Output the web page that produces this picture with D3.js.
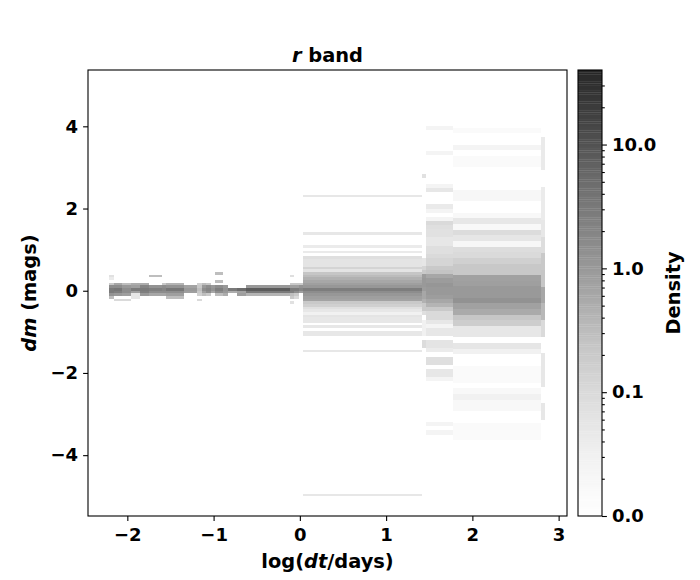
<!DOCTYPE html>
<html><head><meta charset="utf-8">
<script src="https://cdn.jsdelivr.net/npm/d3@7"></script>
<style>
body{margin:0;background:#fff}
text{font-family:"DejaVu Sans",sans-serif;font-weight:bold;fill:#000}
</style>
</head><body>
<svg id="chart" width="700" height="580"></svg>
<script>
// ---------------- data ----------------
const xTicks = [-2, -1, 0, 1, 2, 3];
const yTicks = [-4, -2, 0, 2, 4];
const cbTicks = [0.01, 0.1, 1, 10];
const cbTickLabels = ["0.0", "0.1", "1.0", "10.0"];
const cbMinorTicks = [0.02,0.03,0.04,0.05,0.06,0.07,0.08,0.09,0.2,0.3,0.4,0.5,0.6,0.7,0.8,0.9,2,3,4,5,6,7,8,9,20,30];
const densityMin = 0.01, densityMax = 40;

// log(dt/days) bin edges of each column
const columnLeft  = [-2.216,-2.158,-2.065,-1.961,-1.856,-1.752,-1.601,-1.555,-1.346,-1.195,-1.137,-1.090,-1.032,-0.986,-0.893,-0.835,-0.731,-0.626,-0.116,-0.070,-0.012, 0.035, 1.415, 1.462, 1.775, 2.796];
const columnRight = [-2.158,-2.065,-1.961,-1.856,-1.752,-1.601,-1.555,-1.346,-1.195,-1.137,-1.090,-1.032,-0.986,-0.893,-0.835,-0.731,-0.626,-0.116,-0.070,-0.012, 0.035, 1.415, 1.462, 1.775, 2.796, 2.842];
// dm bin height of each column (mags)
const columnBinHeight = [0.065,0.065,0.065,0.065,0.065,0.065,0.065,0.065,0.065,0.065,0.065,0.065,0.065,0.065,0.065,0.065,0.065,0.065,0.065,0.065,0.065, 0.065, 0.1, 0.1, 0.138, 0.405];

// lower dm edge of every non-empty cell, per column
const cellDm = [
  [0.325,0.26,0.13,0.065,0,-0.065,-0.13,-0.195],
  [0.13,0.065,0,-0.065,-0.13,-0.26],
  [0.13,0.065,0,-0.065,-0.13,-0.26],
  [0.13,0.065,0,-0.065,-0.13,-0.195],
  [0.13,0.065,0,-0.065,-0.13],
  [0.325,0.065,0,-0.065,-0.13],
  [0.13,0.065,0,-0.065,-0.13],
  [0.13,0.065,0,-0.065,-0.13,-0.195],
  [0.065,0,-0.065],
  [0.13,0.065,0,-0.065,-0.13,-0.26],
  [0.13,0.065,0,-0.065,-0.13],
  [0.13,0.065,0,-0.065,-0.13],
  [0.065,0,-0.065],
  [0.39,0.195,0.065,0,-0.065,-0.13],
  [0.065,0,-0.065,-0.13],
  [0,-0.065],
  [0,-0.065,-0.13],
  [0.065,0,-0.065,-0.13],
  [0.325,0.13,0.065,0,-0.065,-0.13,-0.195,-0.325],
  [0.13,0.065,0,-0.065,-0.13,-0.195],
  [0.13,0.065,0,-0.065],
  // main column 0.035 - 1.415
  [2.275,1.365,1.04,0.91,0.78,0.715,0.65,0.585,0.52,0.455,0.39,0.325,0.26,0.195,0.13,0.065,0,-0.065,-0.13,-0.195,-0.26,-0.325,-0.39,-0.455,-0.52,-0.585,-0.65,-0.715,-0.78,-0.91,-1.04,-1.105,-1.495,-5.005],
  // thin column 1.415 - 1.462
  [2.75,0.7,0.6,0.5,0.4,0.3,0.2,0.1,0.0,-0.1,-0.2,-0.3,-0.4,-0.5,-0.6,-0.8,-0.9,-1.0,-1.1,-1.3,-1.4],
  // column 1.462 - 1.775
  [3.9,3.3,2.5,2.4,2.0,1.9,1.7,1.6,1.5,1.4,1.3,1.2,1.1,1.0,0.9,0.8,0.7,0.6,0.5,0.4,0.3,0.2,0.1,0.0,-0.1,-0.2,-0.3,-0.4,-0.5,-0.6,-0.7,-0.8,-0.9,-1.0,-1.1,-1.3,-1.4,-1.5,-1.7,-1.8,-2.0,-2.1,-2.2,-3.3,-3.5],
  // column 1.775 - 2.796
  [-3.62,-3.482,-3.344,-2.93,-2.792,-2.654,-2.516,-2.24,-2.102,-1.964,-1.55,-1.412,-1.136,-0.998,-0.86,-0.722,-0.584,-0.446,-0.308,-0.17,-0.032,0.106,0.244,0.382,0.52,0.658,0.796,0.934,1.072,1.21,1.348,1.486,1.624,1.762,2.176,2.314,3.004,3.142,3.418,3.832],
  // column 2.796 - 2.842
  [-3.14,-2.33,-1.925,-1.115,-0.71,-0.305,0.10,0.505,0.91,1.315,1.72,2.125,2.935,3.34]
];
// density of every cell, same order
const cellDensity = [
  [0.07,0.04,0.2,1.5,3,3,1.2,0.3],
  [0.6,1.5,3.5,2.5,1.0,0.1],
  [0.3,1.0,1.5,1.5,0.8,0.1],
  [0.5,0.8,3,0.8,0.05,0.05],
  [0.5,2,3,2.5,1.0],
  [0.3,1.2,2.5,1.5,0.6],
  [0.2,1.5,2,1.5,0.6],
  [0.4,1.2,3.5,1.5,0.8,0.3],
  [0.7,1.0,0.8],
  [0.15,0.2,0.3,0.2,0.15,0.1],
  [0.3,1.0,1.5,0.8,0.3],
  [0.2,1.5,2,1.5,0.2],
  [1.0,1.2,0.6],
  [0.3,0.3,1.5,2.5,1.5,0.3],
  [1.0,1.2,1.0,0.5],
  [3,0.5],
  [5,0.7,0.8],
  [1.0,8,3,0.4],
  [0.08,0.2,0.8,3,2.5,0.3,0.2,0.07],
  [0.2,0.8,3,1.5,0.2,0.1],
  [0.2,1.2,2,0.8],
  [0.05,0.05,0.04,0.045,0.08,0.06,0.06,0.06,0.13,0.06,0.23,0.32,0.45,0.6,0.8,1.05,2.7,1.5,1.05,0.8,0.7,0.2,0.15,0.075,0.05,0.03,0.06,0.05,0.05,0.05,0.05,0.05,0.05,0.05],
  [0.07,0.055,0.055,0.12,0.2,0.9,1.0,1.0,0.9,0.6,0.6,0.45,0.2,0.2,0.08,0.03,0.03,0.03,0.03,0.09,0.09],
  [0.025,0.025,0.025,0.05,0.045,0.025,0.025,0.1,0.08,0.07,0.07,0.05,0.05,0.08,0.08,0.1,0.12,0.12,0.2,0.25,0.6,0.9,1.1,1.0,1.0,0.85,0.6,0.4,0.2,0.1,0.1,0.05,0.025,0.05,0.05,0.06,0.06,0.04,0.08,0.08,0.05,0.05,0.025,0.025,0.025],
  [0.015,0.015,0.015,0.017,0.017,0.03,0.017,0.015,0.015,0.015,0.03,0.055,0.05,0.05,0.17,0.23,0.55,0.75,1.25,1.0,1.0,0.8,0.75,0.22,0.22,0.15,0.1,0.085,0.02,0.055,0.09,0.017,0.05,0.017,0.02,0.02,0.015,0.015,0.025,0.015],
  [0.05,0.05,0.05,0.1,0.35,0.6,0.23,0.2,0.085,0.05,0.04,0.04,0.045,0.045]
];

// ---------------- drawing ----------------
const svg = d3.select("#chart");
const plot = {left: 88, right: 567, top: 70, bottom: 516};
const cbar = {left: 578, right: 602, top: 70, bottom: 516};
const alpha = 0.85;

const x = d3.scaleLinear().domain([-2.456, 3.097]).range([plot.left, plot.right]);
const y = d3.scaleLinear().domain([-5.48, 5.37]).range([plot.bottom, plot.top]);
const greys = d3.piecewise(d3.interpolateRgb, ["#ffffff","#f0f0f0","#d9d9d9","#bdbdbd","#969696","#737373","#525252","#252525","#000000"]);
const norm = d3.scaleLog().domain([densityMin, densityMax]).range([0, 1]).clamp(true);
const blend = c => d3.interpolateRgb("#ffffff", c)(alpha);
const color = d => blend(greys(norm(d)));

const cells = [];
cellDm.forEach((list, ci) => {
  list.forEach((dm, k) => {
    cells.push({x0: columnLeft[ci], x1: columnRight[ci], y0: dm, y1: dm + columnBinHeight[ci], d: cellDensity[ci][k]});
  });
});

const gCells = svg.append("g").attr("shape-rendering", "crispEdges");
gCells.selectAll("rect").data(cells).join("rect")
  .attr("x", c => x(c.x0))
  .attr("width", c => Math.max(0.5, x(c.x1) - x(c.x0)))
  .attr("y", c => y(c.y1))
  .attr("height", c => Math.max(0.5, y(c.y0) - y(c.y1)))
  .attr("fill", c => color(c.d));

// frame
svg.append("rect").attr("x", plot.left).attr("y", plot.top)
  .attr("width", plot.right - plot.left).attr("height", plot.bottom - plot.top)
  .attr("fill", "none").attr("stroke", "#000").attr("stroke-width", 1.1);

function styleAxis(g, fs) {
  g.select(".domain").remove();
  g.selectAll(".tick line").attr("stroke", "#000").attr("stroke-width", 1.1);
  g.selectAll(".tick text").attr("font-size", fs).attr("font-family", "DejaVu Sans").attr("font-weight", "bold").attr("fill", "#000");
}

const xAxis = svg.append("g").attr("transform", `translate(0,${plot.bottom})`)
  .call(d3.axisBottom(x).tickValues(xTicks).tickSize(4.9).tickPadding(7).tickFormat(d3.format("d")));
styleAxis(xAxis, 18);
xAxis.selectAll(".tick text").attr("dy", "0.71em");

const yAxis = svg.append("g").attr("transform", `translate(${plot.left},0)`)
  .call(d3.axisLeft(y).tickValues(yTicks).tickSize(4.9).tickPadding(5).tickFormat(d3.format("d")));
styleAxis(yAxis, 18);

// colorbar
const cb = d3.scaleLog().domain([densityMin, densityMax]).range([cbar.bottom, cbar.top]);
const nSteps = 200;
const steps = d3.range(nSteps);
const cbH = (cbar.bottom - cbar.top) / nSteps;
svg.append("g").selectAll("rect").data(steps).join("rect")
  .attr("x", cbar.left).attr("width", cbar.right - cbar.left)
  .attr("y", i => cbar.bottom - (i + 1) * cbH)
  .attr("height", cbH + 0.3)
  .attr("fill", i => blend(greys((i + 0.5) / nSteps)));
svg.append("rect").attr("x", cbar.left).attr("y", cbar.top)
  .attr("width", cbar.right - cbar.left).attr("height", cbar.bottom - cbar.top)
  .attr("fill", "none").attr("stroke", "#000").attr("stroke-width", 1.1);

const cbAxis = svg.append("g").attr("transform", `translate(${cbar.right},0)`)
  .call(d3.axisRight(cb).tickValues(cbTicks).tickSize(4.9).tickPadding(5).tickFormat((d, i) => cbTickLabels[i]));
styleAxis(cbAxis, 18);
const cbMinor = svg.append("g").attr("transform", `translate(${cbar.right},0)`)
  .call(d3.axisRight(cb).tickValues(cbMinorTicks.filter(v => v <= densityMax)).tickSize(2.8).tickFormat(""));
styleAxis(cbMinor, 18);

// titles & labels
const title = svg.append("text").attr("x", (plot.left + plot.right) / 2).attr("y", 62)
  .attr("text-anchor", "middle").attr("font-size", 19.4);
title.append("tspan").attr("font-style", "italic").text("r");
title.append("tspan").text(" band");

const xl = svg.append("text").attr("x", (plot.left + plot.right) / 2).attr("y", 568)
  .attr("text-anchor", "middle").attr("font-size", 19.4);
xl.append("tspan").text("log(");
xl.append("tspan").attr("font-style", "italic").text("dt");
xl.append("tspan").text("/days)");

const yl = svg.append("text").attr("transform", `translate(36,${(plot.top + plot.bottom) / 2}) rotate(-90)`)
  .attr("text-anchor", "middle").attr("font-size", 19.4);
yl.append("tspan").attr("font-style", "italic").text("dm");
yl.append("tspan").text(" (mags)");

svg.append("text").attr("transform", `translate(680,${(cbar.top + cbar.bottom) / 2}) rotate(-90)`)
  .attr("text-anchor", "middle").attr("font-size", 19.4).text("Density");
</script>
</body></html>
